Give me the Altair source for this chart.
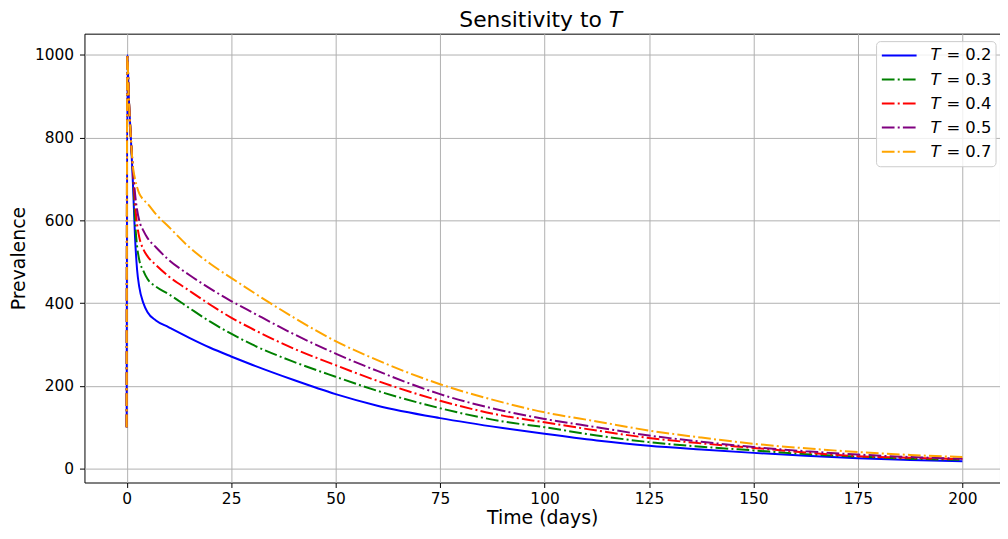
import altair as alt
import pandas as pd

# ---- data ----
t_days = [0, 0.15, 0.5, 1, 1.5, 2, 2.5, 3, 4, 5, 7, 10, 15, 20, 25, 30, 40, 50,
          60, 75, 90, 100, 112.5, 125, 137.5, 150, 162.5, 175, 187.5, 200]

prev_T02 = [100, 1000, 900, 800, 690, 560, 480, 440, 400, 378, 358, 342, 316, 292,
            271, 251, 214, 180, 152, 122, 98, 84, 68, 55, 46, 38, 31, 25, 21, 18]
prev_T03 = [100, 1000, 900, 800, 715, 600, 537, 505, 478, 458, 440, 422, 388, 355,
            326, 300, 258, 222, 188, 146, 114, 100, 80, 64, 53, 44, 35, 29, 24, 21]
prev_T04 = [100, 1000, 900, 800, 720, 640, 590, 560, 530, 513, 492, 465, 430, 396,
            365, 338, 290, 250, 212, 164, 128, 112, 92, 74, 61, 50, 39, 30, 26, 23]
prev_T05 = [100, 1000, 900, 800, 725, 665, 625, 600, 575, 557, 535, 505, 468, 435,
            405, 378, 325, 278, 236, 180, 140, 120, 100, 80, 65, 52, 42, 34, 28, 24]
prev_T07 = [100, 1000, 900, 800, 730, 700, 680, 665, 650, 640, 615, 585, 535, 495,
            461, 428, 365, 308, 262, 204, 160, 136, 114, 92, 75, 60, 49, 40, 33, 28]

T_labels = ["0.2", "0.3", "0.4", "0.5", "0.7"]
series = [prev_T02, prev_T03, prev_T04, prev_T05, prev_T07]
colors = ["blue", "green", "red", "purple", "orange"]
dashdot = [False, True, True, True, True]

x_ticks = [0, 25, 50, 75, 100, 125, 150, 175, 200]
y_ticks = [0, 200, 400, 600, 800, 1000]

# ---- styling ----
FONT = "DejaVu Sans"
DASH = [12.8, 3.2, 2, 3.2]
X_DOMAIN = [-10.1, 209.0]
Y_DOMAIN = [-33.6, 1051.1]

x_enc = alt.X(
    "t:Q",
    scale=alt.Scale(domain=X_DOMAIN, nice=False, zero=False),
    axis=alt.Axis(values=x_ticks, title="Time (days)", labelPadding=4,
                  titlePadding=2, format="d"),
)
y_enc = alt.Y(
    "v:Q",
    scale=alt.Scale(domain=Y_DOMAIN, nice=False, zero=False),
    axis=alt.Axis(values=y_ticks, title="Prevalence", labelPadding=6,
                  titlePadding=6, format="d"),
)

layers = []
for vals, col, dd in zip(series, colors, dashdot):
    df = pd.DataFrame({"t": t_days, "v": vals})
    kw = dict(color=col, strokeWidth=2, interpolate="monotone", clip=True)
    if dd:
        kw["strokeDash"] = DASH
    layers.append(alt.Chart(df).mark_line(**kw).encode(x=x_enc, y=y_enc))

one = pd.DataFrame({"k": [0]})

# ---- legend (custom, to keep the italic T) ----
box = alt.Chart(one).mark_rect(
    fill="white", fillOpacity=0.8, stroke="#cccccc", strokeWidth=1, cornerRadius=4
).encode(x=alt.value(797.7), x2=alt.value(918), y=alt.value(8), y2=alt.value(134))
layers.append(box)

for i, (lab, col, dd) in enumerate(zip(T_labels, colors, dashdot)):
    yy = 22 + i * 24.2
    rkw = dict(color=col, strokeWidth=2)
    if dd:
        rkw["strokeDash"] = DASH
    layers.append(alt.Chart(one).mark_rule(**rkw).encode(
        x=alt.value(803), x2=alt.value(838), y=alt.value(yy)))
    layers.append(alt.Chart(one).mark_text(
        text="T", font=FONT, fontStyle="italic", fontSize=16.5, align="left",
        baseline="middle", color="black").encode(x=alt.value(852), y=alt.value(yy)))
    layers.append(alt.Chart(one).mark_text(
        text="= " + lab, font=FONT, fontSize=16.5, align="left",
        baseline="middle", color="black").encode(x=alt.value(868), y=alt.value(yy)))

# ---- title with italic T ----
layers.append(alt.Chart(one).mark_text(
    text="Sensitivity to", font=FONT, fontSize=22, align="right",
    baseline="alphabetic", color="black").encode(x=alt.value(521), y=alt.value(-6.5)))
layers.append(alt.Chart(one).mark_text(
    text="T", font=FONT, fontSize=22, fontStyle="italic", align="left",
    baseline="alphabetic", color="black").encode(x=alt.value(528), y=alt.value(-6.5)))

chart = alt.layer(*layers).properties(
    width=922,
    height=452,
    padding={"left": 77, "top": 24, "right": 0, "bottom": 50},
    autosize=alt.AutoSizeParams(type="none"),
).configure_view(
    stroke="black", strokeWidth=1
).configure_axis(
    grid=True, gridColor="#b0b0b0", gridWidth=1,
    domain=False, tickColor="black", tickSize=5, tickWidth=1,
    labelFont=FONT, labelFontSize=15.5, labelColor="black",
    titleFont=FONT, titleFontSize=19, titleColor="black", titleFontWeight="normal",
)

chart.save("out.html", embed_options={"renderer": "svg", "actions": False})
